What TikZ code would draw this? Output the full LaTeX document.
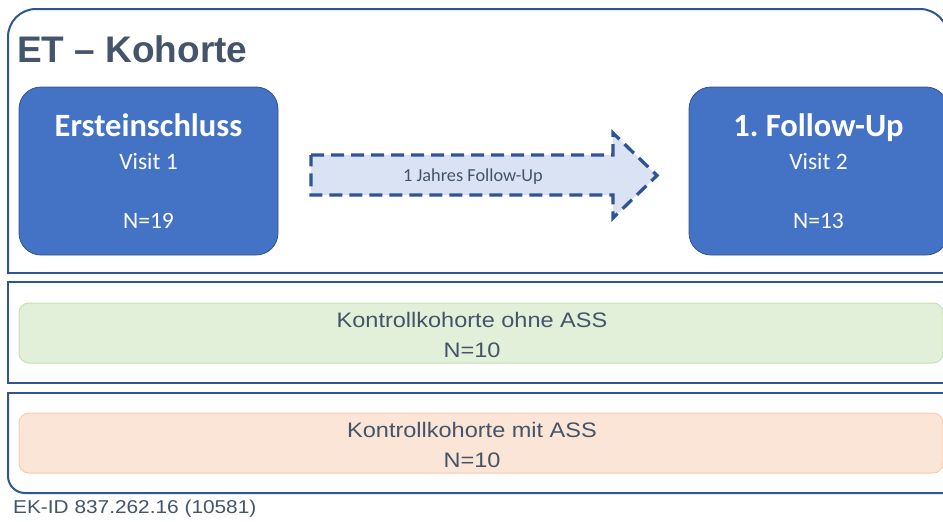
\documentclass[tikz,border=0pt]{standalone}
\usepackage{fontspec}
\setmainfont{Liberation Sans}
\newfontfamily\calfont{Carlito}
\newfontfamily\widesans{Liberation Sans}[FakeStretch=1.12]
\usepackage{xcolor}
\definecolor{framedark}{HTML}{2F5597}
\definecolor{visitblue}{HTML}{4472C4}
\definecolor{visitedge}{HTML}{2F528F}
\definecolor{slatetext}{HTML}{44546A}
\definecolor{arrowfill}{HTML}{DAE3F3}
\definecolor{ctlgreen}{HTML}{E2F0D9}
\definecolor{ctlgreenedge}{HTML}{C5E0B4}
\definecolor{ctlorange}{HTML}{FBE5D6}
\definecolor{ctlorangeedge}{HTML}{F8CBAD}

\begin{document}
\begin{tikzpicture}[
    x=1pt, y=-1pt,
    frame/.style={draw=framedark, line width=2pt, line cap=rect},
    visitbox/.style={rectangle, rounded corners=22pt, fill=visitblue, draw=visitedge,
      line width=0.8pt, minimum width=259pt, minimum height=168pt, inner sep=0pt},
    visittitle/.style={inner sep=0pt, anchor=base, text=white,
      font=\calfont\bfseries\fontsize{32.5}{34}\selectfont},
    visitlbl/.style={inner sep=0pt, anchor=base, text=white,
      font=\calfont\fontsize{23.5}{25}\selectfont},
    ctlbox/.style={rectangle, rounded corners=10pt, line width=1pt,
      minimum width=924pt, minimum height=60pt, inner sep=0pt},
    ctllbl/.style={inner sep=0pt, anchor=base, text=slatetext,
      font=\widesans\fontsize{21}{23}\selectfont},
    dasharrow/.style={draw=framedark, fill=arrowfill, line width=3.3pt,
      dash pattern=on 13pt off 7pt, line join=miter},
  ]
  \useasboundingbox (0,0) rectangle (943,522);
  \clip (0,0) rectangle (943,522);

  % the three cohort frames
  \draw[frame, rounded corners=28pt] (8,273) -- (8,9) -- (948,9) -- (948,273);
  \draw[frame] (8,273) -- (948,273);
  \draw[frame] (8,282) rectangle (965,383);
  \draw[frame, rounded corners=17pt] (8,393) -- (8,493) -- (965,493);
  \draw[frame] (8,393) -- (965,393);

  \node[inner sep=0pt, anchor=base west, text=slatetext,
    font=\bfseries\fontsize{37}{40}\selectfont] (etkohorte) at (17,62) {ET -- Kohorte};

  % visits
  \foreach \nm/\cx/\ttl/\vis/\n in {einschluss/148.5/Ersteinschluss/Visit 1/19,
                                   followup/818.5/1.\ Follow-Up/Visit 2/13} {
    \node[visitbox] (\nm) at (\cx,171) {};
    \node[visittitle] (\nm-title) at (\cx,136) {\ttl};
    \node[visitlbl] (\nm-visit) at (\cx,169) {\vis};
    \node[visitlbl] (\nm-n) at (\cx,228) {N=\n};
  }

  % follow-up interval
  \draw[dasharrow] (311,155) -- (613,155) -- (613,133) -- (657,175.5)
    -- (613,218) -- (613,195) -- (311,195) -- cycle;
  \node[inner sep=0pt, anchor=base, text=slatetext,
    font=\calfont\fontsize{18.3}{20}\selectfont] (intervall) at (473,181) {1 Jahres Follow-Up};

  % control cohorts
  \node[ctlbox, fill=ctlgreen, draw=ctlgreenedge] (ohneass) at (481,333) {};
  \node[ctllbl] (ohneass-name) at (472,327) {Kontrollkohorte ohne ASS};
  \node[ctllbl] (ohneass-n) at (472,357) {N=10};
  \node[ctlbox, fill=ctlorange, draw=ctlorangeedge] (mitass) at (481,443) {};
  \node[ctllbl] (mitass-name) at (472,437) {Kontrollkohorte mit ASS};
  \node[ctllbl] (mitass-n) at (472,467) {N=10};

  \node[inner sep=0pt, anchor=base west, text=slatetext,
    font=\widesans\fontsize{18.6}{20}\selectfont] (ekid) at (13,513) {EK-ID 837.262.16 (10581)};
\end{tikzpicture}
\end{document}
